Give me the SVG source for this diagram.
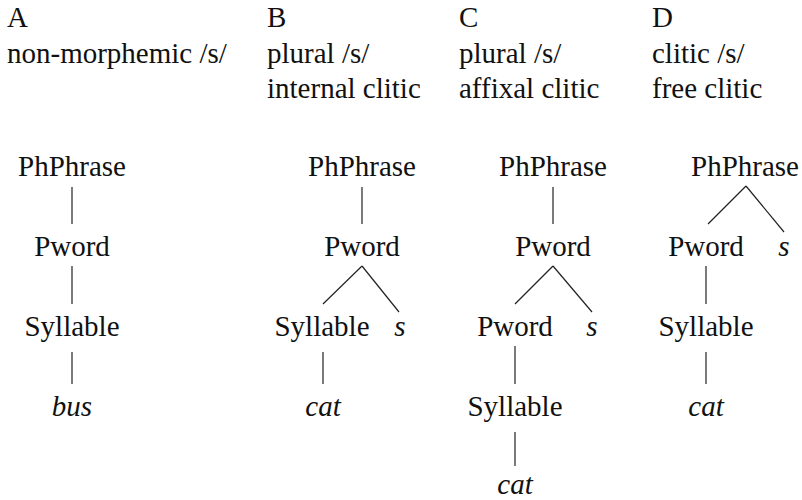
<svg xmlns="http://www.w3.org/2000/svg" width="802" height="500" viewBox="0 0 802 500">
<rect width="802" height="500" fill="#fff"/>
<g id="headers" fill="#111">
<text x="7" y="27" font-family="Times New Roman" font-size="29">A</text>
<text x="7" y="63" font-family="Times New Roman" font-size="29">non-morphemic /s/</text>
<text x="267" y="27" font-family="Times New Roman" font-size="29">B</text>
<text x="267" y="63" font-family="Times New Roman" font-size="29">plural /s/</text>
<text x="267" y="98" font-family="Times New Roman" font-size="29">internal clitic</text>
<text x="459" y="27" font-family="Times New Roman" font-size="29">C</text>
<text x="459" y="63" font-family="Times New Roman" font-size="29">plural /s/</text>
<text x="459" y="98" font-family="Times New Roman" font-size="29">affixal clitic</text>
<text x="652" y="27" font-family="Times New Roman" font-size="29">D</text>
<text x="652" y="63" font-family="Times New Roman" font-size="29">clitic /s/</text>
<text x="652" y="98" font-family="Times New Roman" font-size="29">free clitic</text>
</g>
<g id="treeA" fill="#111" text-anchor="middle">
<g id="A-phphrase"><text x="72" y="176" font-family="Times New Roman" font-size="29">PhPhrase</text></g>
<g id="A-pword"><text x="72" y="256" font-family="Times New Roman" font-size="29">Pword</text></g>
<g id="A-syllable"><text x="72" y="336" font-family="Times New Roman" font-size="29">Syllable</text></g>
<g id="A-bus"><text x="72" y="416" font-family="Times New Roman" font-size="29" font-style="italic">bus</text></g>
</g>
<g id="treeB" fill="#111" text-anchor="middle">
<g id="B-phphrase"><text x="362" y="176" font-family="Times New Roman" font-size="29">PhPhrase</text></g>
<g id="B-pword"><text x="362" y="256" font-family="Times New Roman" font-size="29">Pword</text></g>
<g id="B-syllable"><text x="322" y="336" font-family="Times New Roman" font-size="29">Syllable</text></g>
<g id="B-s"><text x="400" y="336" font-family="Times New Roman" font-size="29" font-style="italic">s</text></g>
<g id="B-cat"><text x="323" y="416" font-family="Times New Roman" font-size="29" font-style="italic">cat</text></g>
</g>
<g id="treeC" fill="#111" text-anchor="middle">
<g id="C-phphrase"><text x="553" y="176" font-family="Times New Roman" font-size="29">PhPhrase</text></g>
<g id="C-pword1"><text x="553" y="256" font-family="Times New Roman" font-size="29">Pword</text></g>
<g id="C-pword2"><text x="515" y="336" font-family="Times New Roman" font-size="29">Pword</text></g>
<g id="C-s"><text x="592" y="336" font-family="Times New Roman" font-size="29" font-style="italic">s</text></g>
<g id="C-syllable"><text x="515" y="416" font-family="Times New Roman" font-size="29">Syllable</text></g>
<g id="C-cat"><text x="515" y="494" font-family="Times New Roman" font-size="29" font-style="italic">cat</text></g>
</g>
<g id="treeD" fill="#111" text-anchor="middle">
<g id="D-phphrase"><text x="745" y="176" font-family="Times New Roman" font-size="29">PhPhrase</text></g>
<g id="D-pword"><text x="706" y="256" font-family="Times New Roman" font-size="29">Pword</text></g>
<g id="D-s"><text x="784" y="256" font-family="Times New Roman" font-size="29" font-style="italic">s</text></g>
<g id="D-syllable"><text x="706" y="336" font-family="Times New Roman" font-size="29">Syllable</text></g>
<g id="D-cat"><text x="706" y="416" font-family="Times New Roman" font-size="29" font-style="italic">cat</text></g>
</g>
<g id="connectors" stroke="#222" stroke-width="1.2">
<line x1="72" y1="187" x2="72" y2="224"/>
<line x1="72" y1="266" x2="72" y2="304"/>
<line x1="72" y1="352" x2="72" y2="384"/>
<line x1="362" y1="187" x2="362" y2="224"/>
<line x1="362" y1="266" x2="323" y2="304"/>
<line x1="362" y1="266" x2="399" y2="312"/>
<line x1="323" y1="352" x2="323" y2="384"/>
<line x1="553" y1="187" x2="553" y2="224"/>
<line x1="553" y1="266" x2="515" y2="304"/>
<line x1="553" y1="266" x2="592" y2="312"/>
<line x1="515" y1="346" x2="515" y2="384"/>
<line x1="515" y1="432" x2="515" y2="466"/>
<line x1="746" y1="186" x2="708" y2="224"/>
<line x1="746" y1="186" x2="784" y2="232"/>
<line x1="706" y1="266" x2="706" y2="304"/>
<line x1="706" y1="352" x2="706" y2="384"/>
</g>
</svg>
